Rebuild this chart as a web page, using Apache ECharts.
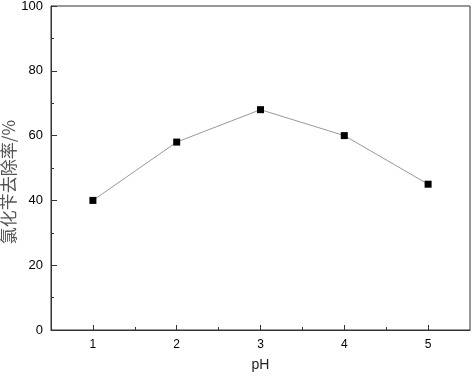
<!DOCTYPE html>
<html>
<head>
<meta charset="utf-8">
<script src="https://cdn.jsdelivr.net/npm/echarts@6/dist/echarts.min.js"></script>
<style>html,body{margin:0;padding:0;background:#fff}#c{width:472px;height:376px}</style>
</head>
<body>
<div id="c"></div>
<script>
const phValues = [1, 2, 3, 4, 5];
const removalRate = [40, 58, 68, 60, 45];
const xMinorTicks = [1.5, 2.5, 3.5, 4.5];
const yTicksMin = 0, yTicksMax = 100, yTickStep = 20;
const xTitle = 'pH';
const yTitle = '氯化苄去除率/%';

const chart = echarts.init(document.getElementById('c'));
const axisColor = '#333';
chart.setOption({
  animation: false,
  backgroundColor: '#fff',
  grid: { left: 51, right: 2, top: 6, bottom: 46, show: true, borderColor: axisColor, borderWidth: 1, containLabel: false, outerBoundsMode: 'none' },
  xAxis: [{
    type: 'value', min: 0.5, max: 5.5, interval: 0.5,
    axisLine: { show: true, lineStyle: { color: axisColor, width: 1 } },
    axisTick: { show: true, inside: true, length: 5, customValues: phValues, lineStyle: { color: axisColor } },
    axisLabel: { customValues: phValues, color: '#000', fontSize: 12, fontFamily: 'Liberation Sans, Arial', margin: 9 },
    splitLine: { show: false },
    name: xTitle, nameLocation: 'middle', nameGap: 28, nameMoveOverlap: false,
    nameTextStyle: { color: '#222', fontSize: 14, fontFamily: 'Liberation Sans, Arial' }
  }, {
    type: 'value', min: 0.5, max: 5.5, interval: 0.5, position: 'bottom',
    axisLine: { show: false },
    axisTick: { show: true, inside: true, length: 3, customValues: xMinorTicks, lineStyle: { color: axisColor } },
    axisLabel: { show: false },
    splitLine: { show: false }
  }],
  yAxis: {
    type: 'value', min: yTicksMin, max: yTicksMax, interval: yTickStep,
    axisLine: { show: true, lineStyle: { color: axisColor, width: 1 } },
    axisTick: { show: true, inside: true, length: 6, lineStyle: { color: axisColor } },
    minorTick: { show: true, splitNumber: 2, length: 3, lineStyle: { color: axisColor } },
    axisLabel: { color: '#000', fontSize: 13, fontFamily: 'Liberation Sans, Arial', margin: 8 },
    splitLine: { show: false },
    name: yTitle, nameLocation: 'middle', nameGap: 34, nameMoveOverlap: false,
    nameTextStyle: { color: '#555', fontSize: 17, fontFamily: 'Noto Sans CJK SC', padding: [0, 28, 0, 0] }
  },
  series: [{
    type: 'line',
    xAxisIndex: 0,
    data: phValues.map((p, i) => [p, removalRate[i]]),
    symbol: 'rect', symbolSize: 7,
    lineStyle: { color: '#999', width: 1 },
    itemStyle: { color: '#000' }
  }]
});
</script>
</body>
</html>
